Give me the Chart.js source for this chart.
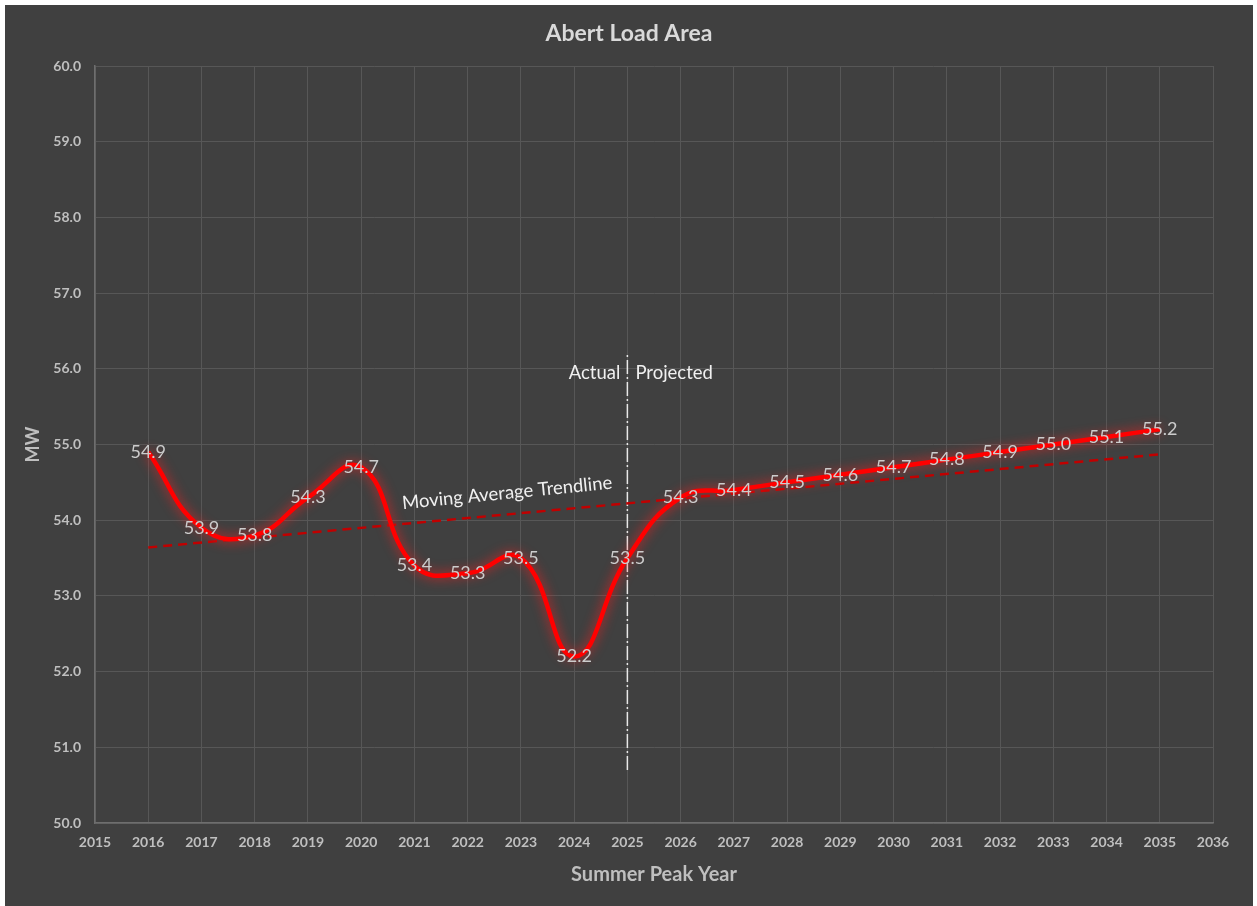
<!DOCTYPE html>
<html>
<head>
<meta charset="utf-8">
<title>Abert Load Area</title>
<script src="https://cdn.jsdelivr.net/npm/chart.js@4.4.1/dist/chart.umd.min.js"></script>
<style>
  html, body { margin: 0; padding: 0; background: #ffffff; }
  #wrap { position: absolute; left: 5px; top: 5px; width: 1248px; height: 901px; background: #404040; }
  canvas { display: block; }
</style>
</head>
<body>
<div id="wrap"><canvas id="loadChart" width="1248" height="901"></canvas></div>
<script>
// Summer peak load, actual (2016-2025) and projected (2026-2035), MW
const years = [2016, 2017, 2018, 2019, 2020, 2021, 2022, 2023, 2024, 2025,
               2026, 2027, 2028, 2029, 2030, 2031, 2032, 2033, 2034, 2035];
const peakMW = [54.9, 53.9, 53.8, 54.3, 54.7, 53.4, 53.3, 53.5, 52.2, 53.5,
                54.3, 54.4, 54.5, 54.6, 54.7, 54.8, 54.9, 55.0, 55.1, 55.2];

// Trendline end points
const trendYears = [2016, 2035];
const trendMW = [53.64, 54.87];

// Actual / projected divider
const dividerYears = [2025, 2025];
const dividerMW = [50.7, 56.2];
const dividerLabelMW = 55.95;

// Trendline caption anchor
const trendCaption = { year: 2022.74, mw: 54.36, text: 'Moving Average Trendline' };

// Axis ranges
const xRange = [2015, 2036];
const yRange = [50, 60];

const FONT = 'Lato, "Open Sans", sans-serif';

const toXY = (xs, ys) => xs.map((x, i) => ({ x: x, y: ys[i] }));

// Soft red glow behind the main series
const glowPlugin = {
  id: 'glow',
  beforeDatasetDraw(chart, args) {
    if (args.index !== 0) return;
    const ctx = chart.ctx;
    ctx.save();
    ctx.shadowColor = 'rgba(255, 30, 30, 0.9)';
    ctx.shadowBlur = 12;
  },
  afterDatasetDraw(chart, args) {
    if (args.index !== 0) return;
    chart.ctx.restore();
  }
};

// Value labels centred on each point, plus the text annotations
const labelPlugin = {
  id: 'labels',
  afterDatasetsDraw(chart) {
    const ctx = chart.ctx;
    const xs = chart.scales.x, ys = chart.scales.y;
    const meta = chart.getDatasetMeta(0);

    ctx.save();
    ctx.font = '18px ' + FONT;
    ctx.textAlign = 'center';
    ctx.textBaseline = 'middle';
    ctx.fillStyle = '#cccccc';
    meta.data.forEach((pt, i) => {
      ctx.fillText(peakMW[i].toFixed(1), pt.x, pt.y);
    });

    // Actual / Projected
    const dx = xs.getPixelForValue(dividerYears[0]);
    const dy = ys.getPixelForValue(dividerLabelMW);
    ctx.fillStyle = '#f0f0f0';
    ctx.font = '18.5px ' + FONT;
    ctx.textAlign = 'right';
    ctx.fillText('Actual', dx - 7, dy);
    ctx.textAlign = 'left';
    ctx.fillText('Projected', dx + 8, dy);

    // Trendline caption
    const cx = xs.getPixelForValue(trendCaption.year);
    const cy = ys.getPixelForValue(trendCaption.mw);
    ctx.translate(cx, cy);
    ctx.rotate(-5.6 * Math.PI / 180);
    ctx.textAlign = 'center';
    ctx.font = '18.5px ' + FONT;
    ctx.fillText(trendCaption.text, 0, 0);
    ctx.restore();
  }
};

new Chart(document.getElementById('loadChart'), {
  type: 'line',
  data: {
    datasets: [
      {
        label: 'Summer Peak',
        data: toXY(years, peakMW),
        borderColor: '#ff0000',
        borderWidth: 4.5,
        pointRadius: 0,
        tension: 0.45,
        fill: false
      },
      {
        label: 'Trend',
        data: toXY(trendYears, trendMW),
        borderColor: '#c00000',
        borderWidth: 2.5,
        borderDash: [9, 6],
        pointRadius: 0,
        tension: 0,
        fill: false
      },
      {
        label: 'Divider',
        data: toXY(dividerYears, dividerMW),
        borderColor: '#e8e8e8',
        borderWidth: 1.5,
        borderDash: [14, 3, 2, 3],
        pointRadius: 0,
        tension: 0,
        fill: false
      }
    ]
  },
  options: {
    responsive: false,
    animation: false,
    devicePixelRatio: 1,
    layout: { padding: 0 },
    plugins: {
      legend: { display: false },
      tooltip: { enabled: false },
      title: {
        display: true,
        text: 'Abert Load Area',
        color: '#d9d9d9',
        font: { family: FONT, size: 23, weight: 'bold' },
        padding: { top: 15, bottom: 18.4 }
      }
    },
    scales: {
      x: {
        type: 'linear',
        min: xRange[0],
        max: xRange[1],
        afterFit(scale) { scale.height = 83; },
        grid: { color: '#575757', lineWidth: 1, drawTicks: false },
        border: { color: '#6e6e6e', width: 1.5 },
        ticks: {
          stepSize: 1,
          padding: 11,
          color: '#bfbfbf',
          font: { family: FONT, size: 14, weight: 'bold' },
          maxRotation: 0,
          autoSkip: false,
          callback: v => String(v)
        },
        title: {
          display: true,
          text: 'Summer Peak Year',
          color: '#bfbfbf',
          font: { family: FONT, size: 20, weight: 'bold' },
          padding: { top: 0, bottom: 19 }
        }
      },
      y: {
        min: yRange[0],
        max: yRange[1],
        afterFit(scale) { scale.width = 90; },
        grid: { color: '#575757', lineWidth: 1, drawTicks: false },
        border: { color: '#6e6e6e', width: 1.5 },
        ticks: {
          stepSize: 1,
          padding: 14,
          color: '#bfbfbf',
          font: { family: FONT, size: 14, weight: 'bold' },
          callback: v => Number(v).toFixed(1)
        },
        title: {
          display: true,
          text: 'MW',
          color: '#bfbfbf',
          font: { family: FONT, size: 18, weight: 'bold' },
          padding: { top: 17, bottom: 0 }
        }
      },
      // empty right-hand margin beside the plot
      rightMargin: {
        position: 'right',
        display: true,
        afterFit(scale) { scale.width = 40; },
        grid: { display: false, drawOnChartArea: false },
        border: { display: false },
        ticks: { display: false },
        title: { display: false }
      }
    }
  },
  plugins: [glowPlugin, labelPlugin]
});
</script>
</body>
</html>
